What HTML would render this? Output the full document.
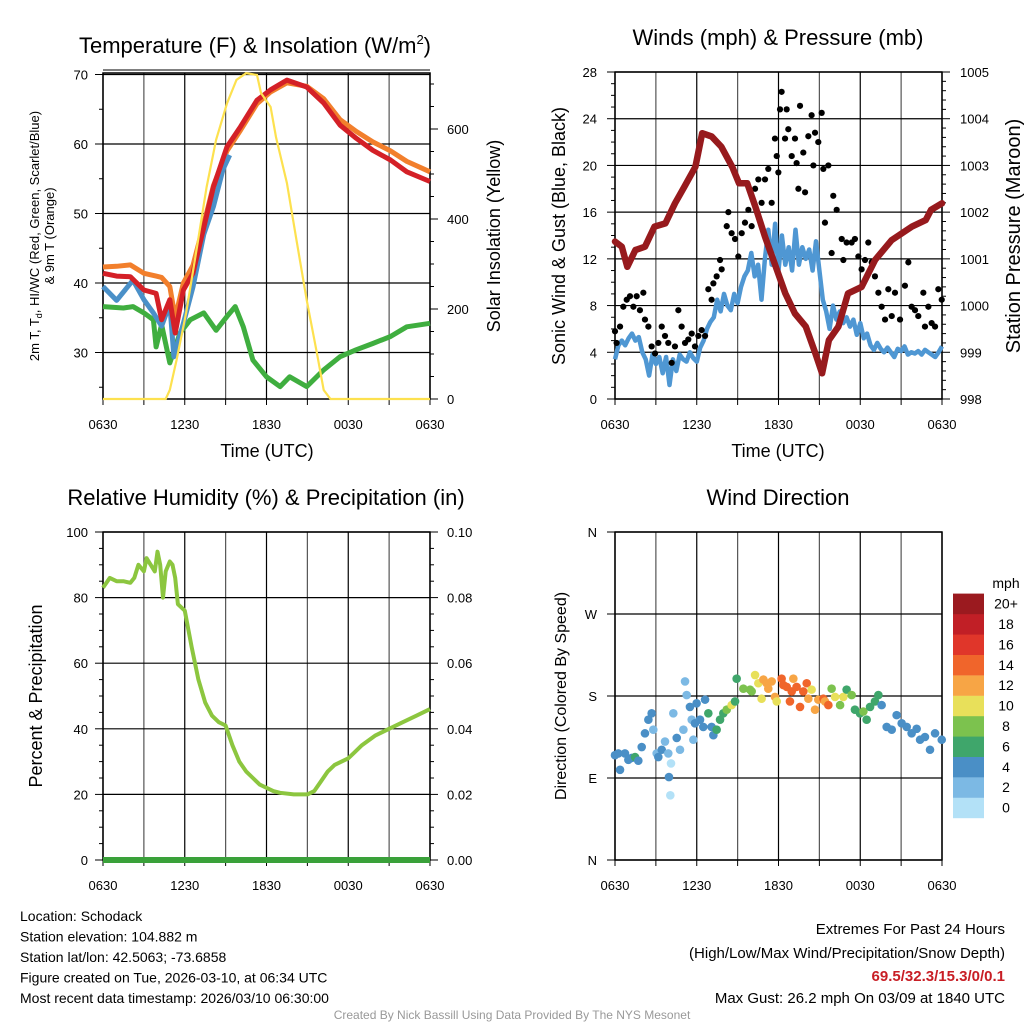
<!DOCTYPE html>
<html><head><meta charset="utf-8"><style>
html,body{margin:0;padding:0;background:#fff;}
svg{display:block;font-family:"Liberation Sans",sans-serif;}
</style></head><body>
<svg id="c" width="1024" height="1024" viewBox="0 0 1024 1024" xmlns="http://www.w3.org/2000/svg">
<g id="layer"></g>
</svg>
<script>
// ---- Panel 1 data (hours since 0630 UTC) ----
const tempT=[0,1,2,3,3.9,4.3,4.9,5.3,5.9,6.6,7.4,8.1,9.1,10.1,11.3,12.3,13.5,14.95,16.2,17.4,18.6,19.8,21.1,22.3,24];
const tempRed=[41.4,41.0,40.9,39.0,38.5,34.7,37.6,32.8,39.0,41.4,48.0,53.8,59.6,62.5,66.3,67.8,69.2,68.2,65.9,62.7,60.8,59.1,57.7,56.0,54.6];
const tempOrange=[42.3,42.4,42.6,41.4,41.0,40.8,39.5,35.0,40.0,42.5,48.5,54.0,59.0,62.0,65.8,67.5,68.8,68.3,66.5,63.5,61.8,60.3,59.0,57.5,56.0];
const hiT=[0,1,2.2,3,3.7,4.3,4.9,5.2,5.9,6.6,7.4,8.1,8.8,9.3];
const hiBlue=[39.5,37.5,40.4,37.6,35.7,33.8,37.0,29.4,34.2,39.4,47.0,51.0,56.3,58.4];
const dewT=[0,1.5,2.2,3,3.7,3.9,4.3,4.9,5.65,6.4,7.4,8.3,9.1,9.7,10.3,11.0,12.0,13.0,13.7,14.95,16.2,17.4,18.6,19.8,21.1,22.3,24];
const dewGreen=[36.6,36.4,36.6,35.7,34.7,30.8,34.0,28.5,32.8,34.7,35.7,33.2,35.2,36.6,33.7,28.9,26.5,25.1,26.5,25.1,27.5,29.4,30.4,31.3,32.3,33.7,34.2];
const solT=[0,4.6,4.9,5.4,6.1,6.9,7.6,8.3,9.1,9.8,10.5,11.3,11.6,12.3,12.7,13.5,14.2,14.95,15.7,16.2,16.7,24];
const solYellow=[0,0,20,87,191,338,471,576,657,709,724,720,680,649,582,480,353,220,102,20,0,0];
// ---- Panel 2 data ----
const presT=[0,0.5,0.9,1.5,2.2,2.9,3.7,4.4,5.1,5.9,6.4,7.1,7.8,8.6,9.1,9.7,10.3,11,11.8,12.5,13.2,14,14.7,15.2,15.7,16.4,17.1,18.1,19.1,20.3,21.8,22.8,23.2,24];
const presVal=[1001.37,1001.26,1000.83,1001.19,1001.26,1001.69,1001.76,1002.19,1002.55,1002.97,1003.69,1003.62,1003.4,1002.97,1002.62,1002.62,1002.12,1001.48,1000.83,1000.26,999.83,999.55,998.98,998.55,999.26,999.55,1000.26,1000.4,1000.98,1001.4,1001.69,1001.83,1002.05,1002.19];
const windT=[0,0.25,0.5,0.75,1,1.25,1.5,1.75,2,2.25,2.5,2.75,3,3.25,3.5,3.75,4,4.25,4.5,4.75,5,5.25,5.5,5.75,6,6.25,6.5,6.75,7,7.25,7.5,7.75,8,8.25,8.5,8.75,9,9.25,9.5,9.75,10,10.25,10.5,10.75,11,11.25,11.5,11.75,12,12.25,12.5,12.75,13,13.25,13.5,13.75,14,14.25,14.5,14.75,15,15.25,15.5,15.75,16,16.25,16.5,16.75,17,17.25,17.5,17.75,18,18.25,18.5,18.75,19,19.25,19.5,19.75,20,20.25,20.5,20.75,21,21.25,21.5,21.75,22,22.25,22.5,22.75,23,23.25,23.5,23.75,24];
const windBlue=[3.4,4.6,5.0,4.6,5.2,5.6,5.0,5.3,4.0,3.4,2.0,3.8,3.0,3.6,2.2,3.6,1.2,3.4,2.4,3.8,3.4,3.2,4.0,3.5,3.2,4.4,5.0,6.0,6.6,7.0,8.5,7.5,9.0,8.0,7.6,9.0,8.2,9.6,10.5,11.0,12.5,10.5,11.5,8.5,12.0,14.5,11.5,15.0,11.0,14.0,11.5,13.0,11.0,14.5,11.5,13.0,12.0,12.8,11.0,13.5,11.0,8.5,7.5,6.0,8.0,6.8,7.5,6.5,7.0,6.2,6.8,5.5,6.5,5.2,5.6,4.6,4.2,4.8,4.3,4.0,4.4,4.0,3.6,4.3,4.1,4.5,3.8,4.0,3.9,4.1,3.8,4.2,4.0,3.8,3.6,4.0,4.5];
const gustT=[0,0.12,0.37,0.61,0.86,1.1,1.35,1.59,1.83,2.08,2.2,2.45,2.69,2.94,3.18,3.43,3.67,3.91,4.16,4.4,4.65,4.89,5.14,5.38,5.63,5.87,6.12,6.36,6.61,6.85,7.09,7.22,7.46,7.71,7.83,8.2,8.32,8.56,8.81,9.05,9.3,9.54,9.79,10.03,10.28,10.52,10.76,11.01,11.25,11.5,11.74,11.87,11.99,12.11,12.23,12.48,12.6,12.72,12.97,13.21,13.33,13.46,13.58,13.82,13.95,14.19,14.43,14.56,14.68,14.92,15.17,15.29,15.41,15.66,15.9,16.02,16.27,16.64,16.76,17.0,17.37,17.61,17.86,18.1,18.35,18.59,18.84,19.08,19.33,19.57,19.82,20.06,20.31,20.55,20.92,21.28,21.53,21.77,22.02,22.26,22.63,22.75,23.0,23.24,23.49,23.73,23.98];
const gustVal=[5.8,4.8,6.2,7.9,8.5,8.8,7.9,8.8,7.6,9.1,6.8,6.2,4.5,3.9,4.8,6.2,5.4,4.8,3.1,4.5,7.6,6.2,4.8,5.1,5.6,4.5,5.4,5.9,5.4,9.4,8.5,9.9,10.5,11.9,11.1,14.8,16.0,14.2,13.7,12.2,14.2,15.1,16.2,14.8,18.0,18.8,16.8,18.8,19.7,16.8,22.3,20.8,19.4,24.8,26.3,22.3,24.8,23.1,20.8,22.3,20.2,18.0,25.1,21.1,17.7,22.5,24.3,20.0,22.8,22.0,24.5,19.7,15.1,20.0,12.5,17.4,16.2,13.7,11.9,13.4,13.4,13.7,12.2,11.1,11.9,13.4,11.7,10.5,9.1,7.9,6.8,9.4,7.1,9.1,6.8,9.7,11.7,7.9,7.6,7.1,9.1,6.2,7.9,6.5,6.2,9.4,8.5];
// ---- Panel 3 data ----
const rhT=[0,0.5,1,1.5,2,2.3,2.6,3,3.2,3.5,3.8,4,4.2,4.4,4.6,4.9,5.1,5.3,5.5,6,6.5,7,7.5,8,8.5,9,9.5,10,10.5,11,11.5,12,12.5,13,14,14.5,15,15.5,16,16.5,17,18,18.5,19,20,21,22,23,24];
const rhVal=[83,86,85,85,84.5,86,90,88,92,90,88,94,90,80,88,91,90,86,78,76,65,55,48,44,42,41,35,30,27,25,23,22,21,20.5,20,20,20,21,24,27,29,31,33,35,38,40,42,44,46];
const precipT=[0,24];
const precipVal=[0,0];
// ---- Panel 4 data ----
const dirT=[0,0.24,0.37,0.73,0.98,1.22,1.47,1.71,1.96,2.2,2.45,2.69,2.81,3.06,3.18,3.43,3.67,3.91,4.11,3.96,4.06,4.28,4.53,4.77,5.02,5.14,5.26,5.5,5.63,5.75,5.87,5.99,6.24,6.48,6.61,6.85,7.09,7.22,7.46,7.71,7.95,8.2,8.56,8.81,8.93,9.42,9.91,10.03,10.28,10.52,10.76,10.89,11.13,11.25,11.5,11.74,11.87,12.23,12.36,12.6,12.84,12.97,13.09,13.33,13.58,13.82,14.07,14.19,14.43,14.68,14.92,15.29,15.41,15.66,15.9,16.15,16.52,16.76,17.0,17.37,17.61,17.98,18.23,18.47,18.72,19.08,19.33,19.57,19.94,20.31,20.67,21.04,21.41,21.77,22.14,22.39,22.75,23.12,23.49,23.98];
const dirVal=[115,117,99,117,110,112,113,109,124,139,154,161,143,117,113,121,130,117,106,91,71,161,134,121,143,196,181,168,154,132,150,172,154,146,176,161,146,137,143,154,161,165,170,174,199,188,187,185,203,194,177,198,194,188,196,179,174,199,192,190,174,185,199,190,168,185,194,177,187,165,176,177,174,170,188,179,170,179,187,181,165,161,163,154,168,174,181,170,146,143,159,150,146,139,144,132,135,121,139,132];
const dirSpd=[4,4,4,4,4,4,6,4,4,4,3,4,2,2,3,4,2,2,0,4,0,2,4,2,2,2,2,3,2,2,4,4,3,4,4,6,4,4,6,6,6,8,10,6,6,8,8,8,10,10,10,12,12,12,12,12,10,14,14,14,14,14,12,14,14,14,14,12,10,12,12,14,12,14,8,10,8,10,6,8,6,6,8,6,6,6,6,4,4,4,4,4,4,4,4,4,4,4,4,4];
const cbColors=["#b3e1f7","#7cb9e4","#4a8fc6","#3fa66b","#7cc24e","#e8e05a","#f7a545","#f0652b","#e0362a","#c11f26","#9b1a1f"];
const cbLabels=["0","2","4","6","8","10","12","14","16","18","20+"];
const timeLabels=["0630","1230","1830","0030","0630"];

const NS="http://www.w3.org/2000/svg";
const root=document.getElementById('layer');
function mk(tag,attrs,parent){const e=document.createElementNS(NS,tag);for(const k in attrs)e.setAttribute(k,attrs[k]);(parent||root).appendChild(e);return e;}
function txt(s,x,y,size,anchor,extra){const e=mk('text',Object.assign({x:x,y:y,'font-size':size,'text-anchor':anchor||'middle',fill:'#000'},extra||{}));e.textContent=s;return e;}
function linePath(ts,vs,sx,sy){let d='';for(let i=0;i<ts.length;i++){d+=(i?'L':'M')+sx(ts[i]).toFixed(1)+','+sy(vs[i]).toFixed(1);}return d;}

function frame(x0,x1,y0,y1,hGrid,name){
  const g=mk('g',{});
  
  
  for(let i=0;i<=8;i++){const x=x0+(x1-x0)*i/8;mk('line',{x1:x,y1:y0,x2:x,y2:y1,stroke:(i%2?'#555':'#000'),'stroke-width':1.2},g);
    mk('line',{x1:x,y1:y1,x2:x,y2:y1+6,stroke:'#000','stroke-width':1},g);}
  hGrid.forEach(y=>mk('line',{x1:x0,y1:y,x2:x1,y2:y,stroke:'#000','stroke-width':1.2},g));
  mk('rect',{x:x0,y:y0,width:x1-x0,height:y1-y0,fill:'none',stroke:'#000','stroke-width':1.5},g);
  timeLabels.forEach((s,i)=>{const t=txt(s,x0+(x1-x0)*i/4,y1+30,13);});
  return g;
}

// ===== Panel 1 =====
(function(){
  const x0=103,x1=430,y0=73,y1=399;
  const sx=t=>x0+t*(x1-x0)/24;
  const sy=v=>74.5+(70-v)*6.95;
  const sy2=v=>399-v*90/200;
  frame(x0,x1,y0,y1,[70,60,50,40,30].map(sy),'temp');
  mk('line',{x1:x0,y1:70,x2:x1,y2:70,stroke:'#000','stroke-width':1});
  for(let v=25;v<=70;v+=5){const y=sy(v);mk('line',{x1:x0-(v%10?4:8),y1:y,x2:x0,y2:y,stroke:'#000'});}
  [30,40,50,60,70].forEach(v=>{const t=txt(String(v),88,sy(v)+5,13,'end');});
  for(let v=0;v<=700;v+=50){const y=sy2(v);mk('line',{x1:x1,y1:y,x2:x1+(v%200?4:8),y2:y,stroke:'#000'});}
  [0,200,400,600].forEach(v=>{const t=txt(String(v),447,sy2(v)+5,13,'start');});
  const s=[[dewT,dewGreen,'#3fae3f','dewpoint-line'],[tempT,tempOrange,'#f27f2c','temp-9m-line'],[hiT,hiBlue,'#4a90c8','heat-index-line'],[tempT,tempRed,'#d42027','temp-2m-line']];
  s.forEach(a=>{const p=mk('path',{d:linePath(a[0],a[1],sx,sy),fill:'none',stroke:a[2],'stroke-width':5,'stroke-linejoin':'round'});
    });
  const py=mk('path',{d:linePath(solT,solYellow,sx,sy2),fill:'none',stroke:'#fde14f','stroke-width':2.2});
  
  const t1=txt('Temperature (F) & Insolation (W/m',255,53,22);
  const sup=mk('tspan',{dy:-9,'font-size':13},t1);sup.textContent='2';
  const sup2=mk('tspan',{dy:9},t1);sup2.textContent=')';
  const tx=txt('Time (UTC)',267,457,18);
  const yl=mk('text',{transform:'translate(39,236) rotate(-90)','font-size':13,'text-anchor':'middle'});
  
  yl.innerHTML='2m T, T<tspan font-size="9" dy="3">d</tspan><tspan dy="-3">, HI/WC (Red, Green, Scarlet/Blue)</tspan>';
  const yl2=txt('& 9m T (Orange)',0,0,13,'middle',{transform:'translate(54,236) rotate(-90)'});
  
  const yr=txt('Solar Insolation (Yellow)',0,0,18,'middle',{transform:'translate(500,236) rotate(-90)'});
  
})();

// ===== Panel 2 =====
(function(){
  const x0=615,x1=942,y0=72,y1=399;
  const sx=t=>x0+t*(x1-x0)/24;
  const sy=v=>y1-v*(y1-y0)/28;
  const sy2=p=>y1-(p-998)*(y1-y0)/7;
  frame(x0,x1,y0,y1,[0,4,8,12,16,20,24,28].map(sy),'wind');
  for(let v=0;v<=28;v++){const y=sy(v);mk('line',{x1:x0-(v%4?4:8),y1:y,x2:x0,y2:y,stroke:'#000'});}
  [0,4,8,12,16,20,24,28].forEach(v=>{const t=txt(String(v),597,sy(v)+5,13,'end');});
  for(let p=998;p<=1005.001;p+=0.2){const y=sy2(p);const maj=Math.abs(p-Math.round(p))<0.01;mk('line',{x1:x1,y1:y,x2:x1+(maj?8:4),y2:y,stroke:'#000'});}
  for(let p=998;p<=1005;p++){const t=txt(String(p),960,sy2(p)+5,13,'start');}
  const pb=mk('path',{d:linePath(windT,windBlue,sx,sy),fill:'none',stroke:'#4f97d3','stroke-width':4.5,'stroke-linejoin':'round'});
  
  const gg=mk('g',{});
  for(let i=0;i<gustT.length;i++){const c=mk('circle',{cx:sx(gustT[i]),cy:sy(gustVal[i]),r:3.1,fill:'#000'},gg);
    
    }
  const pp=mk('path',{d:linePath(presT,presVal,sx,sy2),fill:'none',stroke:'#971a1d','stroke-width':6.5,'stroke-linejoin':'round','stroke-linecap':'round'});
  
  const t1=txt('Winds (mph) & Pressure (mb)',778,45,22);
  const tx=txt('Time (UTC)',778,457,18);
  const yl=txt('Sonic Wind & Gust (Blue, Black)',0,0,18,'middle',{transform:'translate(565,236) rotate(-90)'});
  const yr=txt('Station Pressure (Maroon)',0,0,20,'middle',{transform:'translate(1020,236) rotate(-90)'});
})();

// ===== Panel 3 =====
(function(){
  const x0=103,x1=430,y0=532,y1=860;
  const sx=t=>x0+t*(x1-x0)/24;
  const sy=v=>y1-v*(y1-y0)/100;
  const sy2=v=>y1-v*(y1-y0)/0.1;
  frame(x0,x1,y0,y1,[0,20,40,60,80,100].map(sy),'rh');
  for(let v=0;v<=100;v+=5){const y=sy(v);mk('line',{x1:x0-(v%20?4:8),y1:y,x2:x0,y2:y,stroke:'#000'});mk('line',{x1:x1,y1:y,x2:x1+(v%20?4:8),y2:y,stroke:'#000'});}
  [0,20,40,60,80,100].forEach(v=>{const t=txt(String(v),88,sy(v)+5,13,'end');});
  ['0.00','0.02','0.04','0.06','0.08','0.10'].forEach((s,i)=>{const t=txt(s,447,sy(i*20)+5,13,'start');});
  const pr=mk('path',{d:linePath(precipT,precipVal,sx,sy2),fill:'none',stroke:'#3aa13a','stroke-width':6});
  
  const rh=mk('path',{d:linePath(rhT,rhVal,sx,sy),fill:'none',stroke:'#8cc63f','stroke-width':4,'stroke-linejoin':'round'});
  
  const t1=txt('Relative Humidity (%) & Precipitation (in)',266,505,22);
  const yl=txt('Percent & Precipitation',0,0,18,'middle',{transform:'translate(42,696) rotate(-90)'});
})();

// ===== Panel 4 =====
(function(){
  const x0=615,x1=942,y0=532,y1=860;
  const sx=t=>x0+t*(x1-x0)/24;
  const sy=d=>y1-d*(y1-y0)/360;
  frame(x0,x1,y0,y1,[0,90,180,270,360].map(sy),'dir');
  ['N','E','S','W','N'].forEach((s,i)=>{const y=sy(i*90);mk('line',{x1:x0-8,y1:y,x2:x0,y2:y,stroke:'#000'});const t=txt(s,597,y+5,13,'end');});
  const gg=mk('g',{});
  for(let i=0;i<dirT.length;i++){const bin=Math.min(10,Math.max(0,Math.round(dirSpd[i]/2)));
    const c=mk('circle',{cx:sx(dirT[i]),cy:sy(dirVal[i]),r:4.3,fill:cbColors[bin]},gg);
    
    }
  const cb=mk('g',{});
  for(let i=0;i<cbColors.length;i++){const y=818-(i+1)*20.4;mk('rect',{x:953,y:y,width:31,height:20.6,fill:cbColors[i]},cb);
    const t=txt(cbLabels[i],1006,y+15,14,'middle');}
  const u=txt('mph',1006,588,14);
  const t1=txt('Wind Direction',778,505,22);
  const yl=txt('Direction (Colored By Speed)',0,0,16,'middle',{transform:'translate(566,696) rotate(-90)'});
})();

// ===== Footer text =====
(function(){
  const L=['Location: Schodack','Station elevation: 104.882 m','Station lat/lon: 42.5063; -73.6858','Figure created on Tue, 2026-03-10, at 06:34 UTC','Most recent data timestamp: 2026/03/10 06:30:00'];
  L.forEach((s,i)=>{const t=txt(s,20,921+i*20.5,14,'start');});
  const a=txt('Extremes For Past 24 Hours',1005,934,15,'end');
  const b=txt('(High/Low/Max Wind/Precipitation/Snow Depth)',1005,958,15,'end');
  const c=txt('69.5/32.3/15.3/0/0.1',1005,981,15,'end',{fill:'#c81e25','font-weight':'bold'});
  const d=txt('Max Gust: 26.2 mph On 03/09 at 1840 UTC',1005,1003,15,'end');
  const e=txt('Created By Nick Bassill Using Data Provided By The NYS Mesonet',512,1019,12,'middle',{fill:'#999'});
})();
</script>
</body></html>
